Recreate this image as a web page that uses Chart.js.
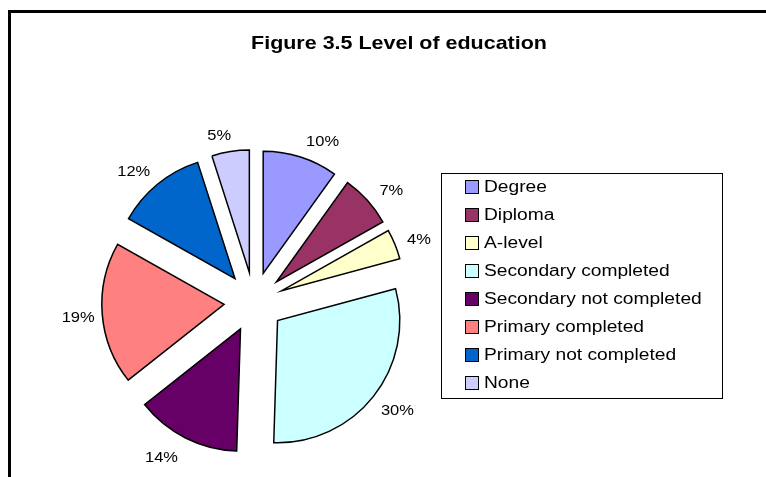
<!DOCTYPE html>
<html>
<head>
<meta charset="utf-8">
<script src="https://cdn.jsdelivr.net/npm/chart.js@4"></script>
<style>
  body { margin: 0; width: 766px; height: 477px; overflow: hidden; background: #fff; font-family: "Liberation Sans", Arial, sans-serif; }
  #frame { position: absolute; left: 8px; top: 10px; width: 800px; height: 500px; border-left: 3px solid #000; border-top: 3px solid #000; }
  #title { position: absolute; left: 0; width: 798px; top: 32px; text-align: center; font-weight: bold; font-size: 19px; transform: scaleX(1.13); transform-origin: 399px 0; }
  #wrap { position: absolute; left: 0; top: 0; width: 766px; height: 477px; }
  #legend { position: absolute; left: 441px; top: 173px; width: 280px; height: 224px; border: 1.5px solid #000; }
  .item { position: absolute; left: 23px; height: 20px; white-space: nowrap; }
  .sw { position: absolute; left: 0; top: 3px; width: 12px; height: 12px; border: 1.5px solid #000; }
  .lbl { position: absolute; left: 19px; top: 0; font-size: 16px; line-height: 20px; transform: scaleX(1.2); transform-origin: 0 0; }
</style>
</head>
<body>
<div id="wrap"><canvas id="grafico"></canvas></div>
<div id="frame"></div>
<div id="title">Figure 3.5 Level of education</div>
<div id="legend"></div>
<script>
// Datos del grafico
const categorias = ["Degree", "Diploma", "A-level", "Secondary completed", "Secondary not completed", "Primary completed", "Primary not completed", "None"];
const porcentajes = [10, 7, 4, 30, 14, 19, 12, 5];
const colores = ["#9999FF", "#993366", "#FFFFCC", "#CCFFFF", "#660066", "#FF8080", "#0066CC", "#CCCCFF"];
const separacion = 30; // px que se separa cada porcion del centro

// Leyenda en HTML con borde
let leyenda = document.getElementById("legend");
categorias.forEach((c, i) => {
  let item = document.createElement("div");
  item.className = "item";
  item.style.top = (3 + i * 28) + "px";
  item.innerHTML = '<div class="sw" style="background:' + colores[i] + '"></div><div class="lbl">' + c + '</div>';
  leyenda.appendChild(item);
});

// Separa las porciones (sin el ajuste de radio que hace "offset")
const separar = {
  id: "separar",
  afterDatasetUpdate(chart, args) {
    chart.getDatasetMeta(args.index).data.forEach(arc => {
      let mid = (arc.startAngle + arc.endAngle) / 2;
      arc.x += Math.cos(mid) * separacion;
      arc.y += Math.sin(mid) * separacion;
    });
  }
};

// Etiquetas de porcentaje fuera de cada porcion
const etiquetas = {
  id: "etiquetas",
  afterDatasetsDraw(chart) {
    let ctx = chart.ctx;
    let meta = chart.getDatasetMeta(0);
    ctx.save();
    ctx.font = "15px 'Liberation Sans', Arial, sans-serif";
    ctx.fillStyle = "#000";
    ctx.textAlign = "center";
    ctx.textBaseline = "middle";
    meta.data.forEach((arc, i) => {
      let mid = (arc.startAngle + arc.endAngle) / 2;
      let cx = Math.cos(mid), sy = Math.sin(mid);
      // punto del borde exterior y caja de texto pegada por fuera
      let x = arc.x + cx * arc.outerRadius + 24 * Math.max(-1, Math.min(1, cx * 3));
      let y = arc.y + sy * arc.outerRadius + 3 + 19 * sy;
      ctx.save();
      ctx.translate(x, y);
      ctx.scale(1.1, 1);
      ctx.fillText(porcentajes[i] + "%", 0, 0);
      ctx.restore();
    });
    ctx.restore();
  }
};

let ctx = document.getElementById("grafico").getContext("2d");
let grafico = new Chart(ctx, {
  type: "pie",
  data: {
    labels: categorias,
    datasets: [{
      data: porcentajes,
      backgroundColor: colores,
      borderColor: "#000",
      borderWidth: 1.5,
      borderJoinStyle: "miter",
    }],
  },
  options: {
    responsive: true,
    maintainAspectRatio: false,
    animation: false,
    layout: { padding: { left: 131, right: 389, top: 179, bottom: 52 } },
    plugins: {
      legend: { display: false },
      tooltip: { enabled: false },
    },
  },
  plugins: [separar, etiquetas],
});
</script>
</body>
</html>
